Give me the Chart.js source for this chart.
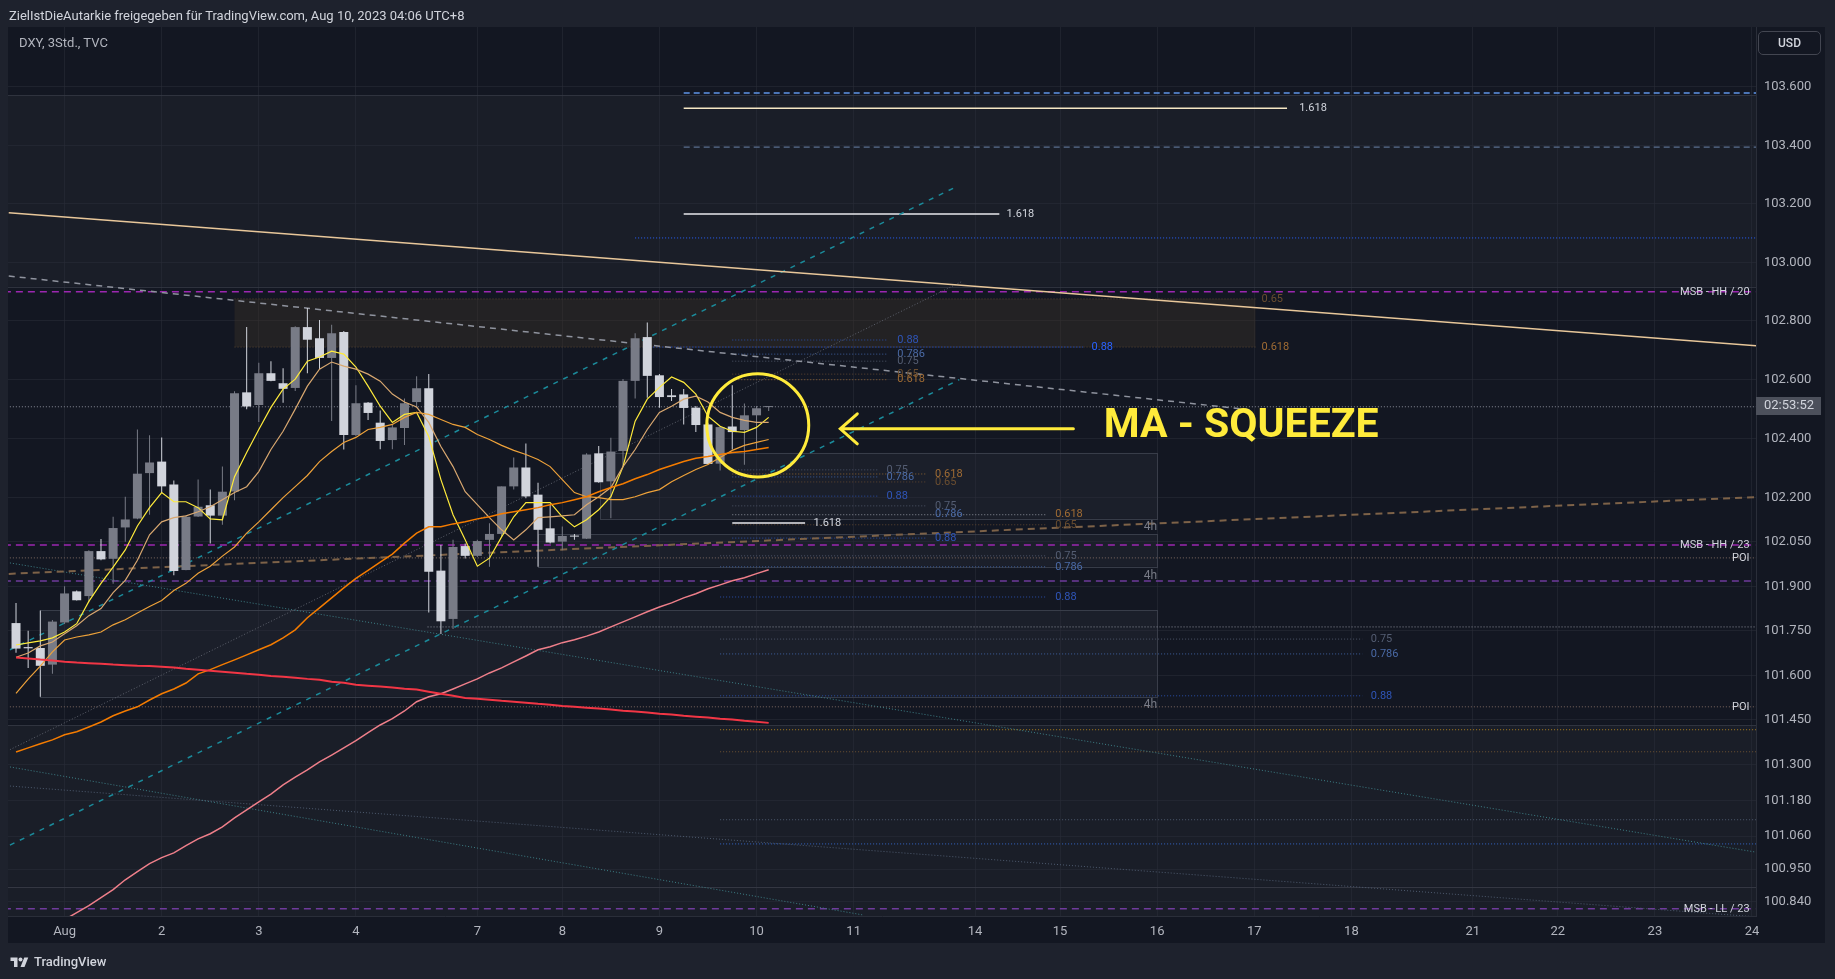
<!DOCTYPE html>
<html>
<head>
<meta charset="utf-8">
<script src="https://cdn.jsdelivr.net/npm/chart.js@4.4.0/dist/chart.umd.min.js"></script>
<style>
  html, body { margin: 0; padding: 0; background: #1e222d; }
  body { width: 1835px; height: 979px; position: relative; overflow: hidden; font-family: Roboto, "Noto Sans", sans-serif; }
  #chart { position: absolute; left: 0; top: 0; }
  #header { position: absolute; left: 9px; top: 9px; font-size: 13px; line-height: 14px; color: #d1d4dc; white-space: nowrap; }
  #symbol { position: absolute; left: 19px; top: 35px; font-size: 13px; line-height: 16px; color: #b2b5be; z-index: 2; }
  #usd { position: absolute; left: 1758px; top: 31px; width: 61px; height: 22px; border: 1px solid #434651; border-radius: 5px;
         font-size: 12px; font-weight: 500; line-height: 22px; text-align: center; color: #d1d4dc; z-index: 2; }
  #footer { position: absolute; left: 10px; top: 954px; display: flex; align-items: center; gap: 5px;
            font-size: 13px; font-weight: 500; color: #d1d4dc; }
</style>
</head>
<body>
<canvas id="chart" width="1835" height="979"></canvas>
<div id="header">ZielIstDieAutarkie freigegeben für TradingView.com, Aug 10, 2023 04:06 UTC+8</div>
<div id="symbol">DXY, 3Std., TVC</div>
<div id="usd">USD</div>
<div id="footer">
  <svg width="19" height="12" viewBox="0 0 36 24"><path fill="#d1d4dc" d="M14 22H7V10H0V3h14v19zM28 22h-8l7.5-19h8L28 22z"/><circle cx="20" cy="7" r="4" fill="#d1d4dc"/></svg>
  <span>TradingView</span>
</div>
<script>
// ---- time axis: bar index of each day label (3h bars) ----
const tickBars = [4, 12, 20, 28, 38, 45, 53, 61, 69, 79, 86, 94, 102, 110, 120, 127, 135, 143];
const tickDays = ['Aug', '2', '3', '4', '7', '8', '9', '10', '11', '14', '15', '16', '17', '18', '21', '22', '23', '24'];

// ---- price axis labels ----
const priceTicks = [103.6, 103.4, 103.2, 103.0, 102.8, 102.6, 102.4, 102.2, 102.05, 101.9, 101.75, 101.6, 101.45, 101.3, 101.18, 101.06, 100.95, 100.84];

// ---- DXY 3h candles ----
const opens = [101.776,101.695,101.692,101.636,101.778,101.883,101.867,102.019,101.993,102.099,
  102.129,102.283,102.322,102.244,101.955,102.136,102.174,102.139,102.221,102.557,
  102.514,102.622,102.588,102.572,102.779,102.741,102.674,102.762,102.412,102.522,
  102.454,102.395,102.436,102.524,102.571,101.953,101.790,102.036,102.003,102.057,
  102.077,102.238,102.302,102.210,102.096,102.051,102.071,102.061,102.350,102.255,
  102.358,102.596,102.745,102.615,102.547,102.550,102.505,102.448,102.315,102.441,
  102.429,102.479,102.507];
const highs = [101.844,101.750,101.818,101.786,101.900,101.886,102.022,102.060,102.135,102.203,
  102.431,102.411,102.404,102.258,102.140,102.261,102.227,102.305,102.561,102.779,
  102.658,102.663,102.639,102.782,102.844,102.803,102.787,102.766,102.581,102.524,
  102.495,102.447,102.536,102.612,102.619,102.040,102.057,102.045,102.057,102.113,
  102.238,102.336,102.383,102.250,102.176,102.102,102.077,102.350,102.375,102.403,
  102.602,102.758,102.795,102.619,102.568,102.568,102.511,102.454,102.443,102.581,
  102.519,102.511,102.511];
const lows = [101.676,101.625,101.528,101.605,101.773,101.852,101.846,101.988,101.909,102.051,
  102.127,102.142,102.216,101.937,101.954,102.134,102.045,102.108,102.191,102.500,
  102.456,102.595,102.522,102.562,102.622,102.636,102.460,102.363,102.409,102.463,
  102.364,102.364,102.378,102.505,101.812,101.739,101.756,101.994,101.999,101.966,
  102.068,102.227,102.198,101.966,102.045,102.022,102.057,102.060,102.250,102.130,
  102.306,102.536,102.539,102.505,102.528,102.448,102.422,102.312,102.292,102.363,
  102.311,102.363,102.494];
const closes = [101.690,101.691,101.632,101.781,101.876,101.853,102.019,101.991,102.097,102.126,
  102.281,102.319,102.238,101.952,102.135,102.169,102.139,102.220,102.554,102.509,
  102.622,102.596,102.569,102.779,102.736,102.674,102.758,102.412,102.520,102.487,
  102.392,102.438,102.520,102.571,101.949,101.782,102.033,102.003,102.053,102.077,
  102.238,102.302,102.204,102.091,102.048,102.070,102.068,102.346,102.252,102.356,
  102.596,102.741,102.613,102.541,102.541,102.504,102.446,102.314,102.439,102.422,
  102.479,102.503,102.509];

// ---- moving averages (one value per candle) ----
const maYellow = [101.702,101.709,101.716,101.726,101.746,101.774,101.849,101.910,101.965,102.023,
  102.104,102.166,102.217,102.186,102.186,102.166,102.128,102.125,102.271,102.353,
  102.431,102.506,102.568,102.602,102.663,102.677,102.697,102.687,102.643,102.578,
  102.510,102.455,102.482,102.489,102.407,102.261,102.142,102.057,101.968,101.995,
  102.067,102.135,102.183,102.183,102.183,102.135,102.101,102.125,102.159,102.203,
  102.305,102.459,102.534,102.574,102.609,102.591,102.551,102.476,102.442,102.425,
  102.421,102.438,102.472];
const maTan = [101.661,101.675,101.699,101.712,101.740,101.767,101.801,101.825,101.879,101.920,
  101.988,102.074,102.118,102.132,102.138,102.152,102.169,102.193,102.217,102.237,
  102.288,102.363,102.425,102.500,102.578,102.636,102.660,102.646,102.636,102.619,
  102.595,102.551,102.524,102.507,102.455,102.373,102.305,102.220,102.176,102.132,
  102.091,102.057,102.091,102.132,102.135,102.138,102.142,102.176,102.203,102.234,
  102.305,102.363,102.431,102.489,102.510,102.534,102.544,102.524,102.489,102.472,
  102.462,102.455,102.455];
const maOrange = [101.539,101.587,101.631,101.679,101.719,101.729,101.736,101.746,101.770,101.787,
  101.810,101.832,101.852,101.886,101.910,101.944,101.968,102.002,102.033,102.080,
  102.118,102.159,102.200,102.237,102.275,102.322,102.356,102.387,102.404,102.431,
  102.438,102.448,102.472,102.489,102.482,102.465,102.448,102.438,102.414,102.397,
  102.377,102.360,102.346,102.329,102.305,102.261,102.217,102.203,102.200,102.193,
  102.193,102.203,102.217,102.227,102.254,102.275,102.295,102.312,102.336,102.360,
  102.377,102.387,102.397];
const maDarkOrange = [101.342,101.356,101.370,101.383,101.400,101.410,101.426,101.443,101.464,101.480,
  101.494,101.517,101.538,101.554,101.574,101.605,101.619,101.636,101.652,101.669,
  101.686,101.703,101.726,101.753,101.794,101.827,101.861,101.895,101.927,101.954,
  101.982,102.009,102.046,102.080,102.101,102.101,102.111,102.118,102.128,102.135,
  102.145,102.152,102.159,102.166,102.176,102.183,102.193,102.203,102.220,102.234,
  102.247,102.264,102.278,102.295,102.309,102.322,102.333,102.339,102.346,102.353,
  102.356,102.363,102.370];
const maRed = [101.660,101.657,101.653,101.650,101.646,101.643,101.641,101.639,101.636,101.634,
  101.632,101.631,101.629,101.626,101.622,101.619,101.615,101.612,101.609,101.605,
  101.602,101.598,101.595,101.592,101.588,101.585,101.578,101.575,101.568,101.565,
  101.562,101.559,101.555,101.552,101.545,101.538,101.531,101.524,101.521,101.518,
  101.514,101.511,101.508,101.504,101.501,101.497,101.494,101.491,101.488,101.485,
  101.481,101.478,101.475,101.471,101.468,101.464,101.461,101.458,101.454,101.451,
  101.447,101.444,101.440];
const maPink = [100.681,100.707,100.734,100.754,100.781,100.804,100.828,100.854,100.881,100.914,
  100.941,100.968,100.988,101.004,101.028,101.051,101.068,101.091,101.121,101.148,
  101.175,101.201,101.232,101.258,101.282,101.309,101.332,101.356,101.380,101.407,
  101.433,101.454,101.480,101.511,101.528,101.538,101.554,101.571,101.588,101.608,
  101.625,101.645,101.665,101.686,101.696,101.710,101.720,101.732,101.746,101.763,
  101.780,101.797,101.814,101.830,101.844,101.861,101.875,101.892,101.905,101.919,
  101.929,101.943,101.956];

// ---- drawings, in bar index / price ----
// trend lines: [bar1, price1, bar2, price2, style]
const trendLines = [
  [-0.6, 103.169, 143.4, 102.715, 'tan'],
  [-0.6, 102.953, 101.6, 102.498, 'grayDash'],
  [-0.6, 101.942, 143.4, 102.202, 'brownDash'],
  [-0.5, 101.686, 77.6, 103.261, 'tealDash'],
  [-0.5, 101.030, 77.7, 102.600, 'tealDash'],
  [-0.5, 101.350, 78.0, 102.936, 'grayDot'],
  [-0.5, 101.979, 143.7, 101.004, 'tealDot'],
  [-0.5, 101.228, 143.4, 100.790, 'slateDot'],
  [-0.5, 101.292, 69.7, 100.797, 'tealDot']
];
// horizontal levels: [price, fromBar, toBar, style]
const levels = [
  [103.579, 55.0, 143.4, 'blueDash'],
  [103.527, 55.0, 104.7, 'cream'],
  [103.394, 55.0, 143.4, 'slateDash'],
  [103.165, 55.0, 81.0, 'white'],
  [103.083, 51.0, 143.4, 'blueDot'],
  [102.899, -1, 143.4, 'purpleDash'],
  [102.875, 18.0, 102.1, 'brownDotDim'],
  [102.711, 18.0, 102.1, 'brownDotDim'],
  [102.711, 52.5, 87.9, 'blueDot'],
  [102.735, 59.0, 71.8, 'fib88'],
  [102.687, 59.0, 71.8, 'fib786'],
  [102.663, 59.0, 71.8, 'fib75'],
  [102.619, 59.0, 71.8, 'fib65'],
  [102.600, 59.0, 71.8, 'fib618'],
  [102.294, 59.0, 71.0, 'fib75'],
  [102.270, 59.0, 71.0, 'fib786'],
  [102.205, 59.0, 71.0, 'fib88'],
  [102.280, 59.0, 75.0, 'fib618'],
  [102.253, 59.0, 75.0, 'fib65'],
  [102.172, 59.0, 75.0, 'fib75'],
  [102.142, 59.0, 84.9, 'lightDot'],
  [102.108, 59.0, 84.9, 'fib65'],
  [102.063, 59.0, 75.0, 'fib88'],
  [102.114, 59.0, 65.0, 'white'],
  [102.003, 58.0, 84.8, 'fib75'],
  [101.966, 58.0, 84.8, 'fib786'],
  [101.864, 58.0, 84.8, 'fib88'],
  [101.722, 58.0, 110.9, 'fib75'],
  [101.672, 58.0, 110.9, 'fib786'],
  [101.531, 58.0, 110.9, 'fib88'],
  [102.040, -1, 143.4, 'purpleDash'],
  [101.996, -1, 143.4, 'poiDot'],
  [101.918, -1, 143.4, 'purpleDashDim'],
  [101.763, 33.9, 143.4, 'lightDot'],
  [101.494, -1, 143.4, 'poiDot'],
  [101.417, 58.0, 143.4, 'orangeDot'],
  [101.343, 58.0, 143.4, 'brownDot'],
  [101.115, 58.0, 143.4, 'slateDot'],
  [101.034, 58.0, 143.4, 'blueDot2'],
  [100.817, -1, 143.4, 'purpleDashDim'],
  [102.508, -1, 143.4, 'lightDot']
];
// rectangles: [fromBar, toBar, topPrice, bottomPrice, style]
const boxes = [
  [-1, 143.4, 103.572, 102.916, 'band'],
  [18.0, 102.1, 102.875, 102.711, 'supply'],
  [48.1, 94.0, 102.352, 102.128, 'zone'],
  [43.0, 94.0, 102.077, 101.966, 'zone'],
  [2.0, 94.0, 101.820, 101.528, 'zone'],
  [-1, 143.4, 101.433, 100.890, 'band'],
  [-1, 143.4, 100.890, 100.700, 'band']
];
// level texts: [text, bar, price, style]
const levelLabels = [
  ['1.618', 105.7, 103.527, 'white'],
  ['1.618', 81.6, 103.165, 'white'],
  ['1.618', 65.7, 102.114, 'white'],
  ['0.65', 102.6, 102.875, 'fib65'],
  ['0.618', 102.6, 102.711, 'fib618'],
  ['0.88', 88.6, 102.711, 'blue'],
  ['0.88', 72.6, 102.735, 'fib88'],
  ['0.786', 72.6, 102.687, 'fib786'],
  ['0.75', 72.6, 102.663, 'fib75'],
  ['0.65', 72.6, 102.619, 'fib65'],
  ['0.618', 72.6, 102.600, 'fib618'],
  ['0.75', 71.7, 102.294, 'fib75'],
  ['0.786', 71.7, 102.270, 'fib786'],
  ['0.88', 71.7, 102.205, 'fib88'],
  ['0.618', 75.7, 102.280, 'fib618'],
  ['0.65', 75.7, 102.253, 'fib65'],
  ['0.75', 75.7, 102.172, 'fib75'],
  ['0.786', 75.7, 102.142, 'fib786'],
  ['0.88', 75.7, 102.063, 'fib88'],
  ['0.618', 85.6, 102.142, 'fib618'],
  ['0.65', 85.6, 102.108, 'fib65'],
  ['0.75', 85.6, 102.003, 'fib75'],
  ['0.786', 85.6, 101.966, 'fib786'],
  ['0.88', 85.6, 101.864, 'fib88'],
  ['0.75', 111.6, 101.722, 'fib75'],
  ['0.786', 111.6, 101.672, 'fib786'],
  ['0.88', 111.6, 101.531, 'fib88']
];
// right-aligned tags: [text, bar, price, style]
const sideTags = [
  ['4h', 94.0, 102.101, 'tf'],
  ['4h', 94.0, 101.935, 'tf'],
  ['4h', 94.0, 101.500, 'tf'],
  ['MSB - HH / 20', 142.8, 102.899, 'side'],
  ['MSB - HH / 23', 142.8, 102.040, 'side'],
  ['POI', 142.8, 101.996, 'side'],
  ['POI', 142.8, 101.494, 'side'],
  ['MSB - LL / 23', 142.8, 100.817, 'side']
];
// squeeze callout: ring bounds, arrow, text
const ringBounds = [56.9, 65.3, 102.620, 102.270];
const arrowBars = [87.1, 67.9];
const arrowPrice = 102.433;
const calloutText = 'MA - SQUEEZE';
const calloutAt = [89.6, 102.440];
const barCountdown = '02:53:52';

// ---- styles ----
const UP = '#787b86', DOWN = '#d1d4dc';
const lineStyles = {
  tan: ['#e8c79a', 1.5, []],
  grayDash: ['#8f939e', 1.5, [6, 5]],
  brownDash: ['#7d6248', 2, [7, 5]],
  tealDash: ['#1b8a9a', 1.5, [5, 6]],
  grayDot: ['#5d616c', 1, [1, 2]],
  tealDot: ['#3d7f86', 1, [1, 2]],
  slateDot: ['#4d5a6e', 1, [1, 2]],
  blueDash: ['#5f95e8', 1.5, [6, 4]],
  cream: ['#f6e7c4', 1.5, []],
  slateDash: ['#5a6f8f', 1.2, [6, 4]],
  white: ['#e8e9ec', 1.5, []],
  blueDot: ['#2962ff', 1, [1, 2]],
  blueDot2: ['#3566c8', 1, [1, 2]],
  purpleDash: ['#9c27b0', 1.5, [7, 5]],
  purpleDashDim: ['#6f3b9c', 1.5, [7, 5]],
  brownDotDim: ['#5a4630', 1, [1, 2]],
  fib88: ['#2a4ea8', 1, [1, 2]],
  fib786: ['#3d5f9e', 1, [1, 2]],
  fib75: ['#4d5568', 1, [1, 2]],
  fib65: ['#5e4630', 1, [1, 2]],
  fib618: ['#8c6232', 1, [1, 2]],
  lightDot: ['#8a8e99', 1, [1, 2]],
  poiDot: ['#7f6a62', 1, [1, 2]],
  orangeDot: ['#b0801c', 1, [1, 2]],
  brownDot: ['#6e5232', 1, [1, 2]]
};
const textColors = {
  white: '#d1d4dc', blue: '#2962ff', fib88: '#2f55b8', fib786: '#4a6aa6', fib75: '#545d72',
  fib65: '#6b4e30', fib618: '#a06c34', tf: '#787b86', side: '#d1d4dc'
};
const boxStyles = {
  band: ['rgba(42,46,57,0.30)', 'rgba(54,58,69,0.8)'],
  supply: ['rgba(64,52,40,0.38)', null],
  zone: ['rgba(42,46,57,0.35)', 'rgba(60,64,76,0.9)']
};

const seg = (x1, y1, x2, y2) => [{ x: x1, y: y1 }, { x: x2, y: y2 }];
const series = arr => arr.map((v, i) => ({ x: i, y: v }));

const datasets = [];
levels.forEach(([p, a, b, s]) => {
  const [c, w, d] = lineStyles[s];
  datasets.push({ type: 'line', data: seg(a, p, b, p), borderColor: c, borderWidth: w, borderDash: d, pointRadius: 0, order: 6 });
});
trendLines.forEach(([a, p1, b, p2, s]) => {
  const [c, w, d] = lineStyles[s];
  datasets.push({ type: 'line', data: seg(a, p1, b, p2), borderColor: c, borderWidth: w, borderDash: d, pointRadius: 0, order: 5 });
});
// wicks then bodies
datasets.push({
  type: 'bar', data: lows.map((l, i) => ({ x: i, y: [l, highs[i]] })),
  backgroundColor: closes.map((c, i) => c >= opens[i] ? UP : DOWN),
  barThickness: 1, grouped: false, inflateAmount: 0, order: 4
});
datasets.push({
  type: 'bar', data: opens.map((o, i) => ({ x: i, y: [o, closes[i]] })),
  backgroundColor: closes.map((c, i) => c >= opens[i] ? UP : DOWN),
  barThickness: 9, minBarLength: 1, grouped: false, inflateAmount: 0, order: 3
});
[[maRed, '#f23645', 2], [maPink, '#ef7f8a', 1.5], [maDarkOrange, '#f57c00', 1.5],
 [maOrange, '#eea23a', 1.2], [maTan, '#d9a870', 1.2], [maYellow, '#ffeb3b', 1.2]].forEach(([arr, c, w]) => {
  datasets.push({ type: 'line', data: series(arr), borderColor: c, borderWidth: w, pointRadius: 0, tension: 0, order: 1 });
});

const drawings = {
  id: 'drawings',
  beforeDraw(chart) {
    const { ctx, chartArea, scales: { x, y } } = chart;
    ctx.save();
    ctx.fillStyle = '#131722';
    ctx.fillRect(chartArea.left, chartArea.top, y.right - chartArea.left, x.bottom - chartArea.top);
    ctx.restore();
  },
  beforeDatasetsDraw(chart) {
    const { ctx, chartArea: ca, scales: { x, y } } = chart;
    ctx.save();
    ctx.beginPath(); ctx.rect(ca.left, ca.top, ca.right - ca.left, ca.bottom - ca.top); ctx.clip();
    boxes.forEach(([a, b, pt, pb, s]) => {
      const [fill, stroke] = boxStyles[s];
      const x1 = x.getPixelForValue(a), x2 = x.getPixelForValue(b);
      const y1 = y.getPixelForValue(pt), y2 = y.getPixelForValue(pb);
      ctx.fillStyle = fill;
      ctx.fillRect(x1, y1, x2 - x1, y2 - y1);
      if (stroke) {
        ctx.strokeStyle = stroke; ctx.lineWidth = 1;
        ctx.strokeRect(Math.round(x1) + 0.5, Math.round(y1) + 0.5, Math.round(x2 - x1), Math.round(y2 - y1));
      }
    });
    ctx.restore();
  },
  afterDatasetsDraw(chart) {
    const { ctx, chartArea: ca, scales: { x, y } } = chart;
    ctx.save();
    ctx.beginPath(); ctx.rect(ca.left, ca.top, ca.right - ca.left, ca.bottom - ca.top); ctx.clip();
    ctx.font = '11px Roboto, sans-serif';
    ctx.textBaseline = 'middle';
    ctx.textAlign = 'left';
    levelLabels.forEach(([t, b, p, s]) => {
      ctx.fillStyle = textColors[s];
      ctx.fillText(t, x.getPixelForValue(b), y.getPixelForValue(p));
    });
    ctx.textAlign = 'right';
    sideTags.forEach(([t, b, p, s]) => {
      ctx.fillStyle = textColors[s];
      ctx.font = s === 'tf' ? '12px Roboto, sans-serif' : '11px Roboto, sans-serif';
      ctx.fillText(t, x.getPixelForValue(b), y.getPixelForValue(p));
    });

    // ring around the squeeze
    const rx1 = x.getPixelForValue(ringBounds[0]), rx2 = x.getPixelForValue(ringBounds[1]);
    const ry1 = y.getPixelForValue(ringBounds[2]), ry2 = y.getPixelForValue(ringBounds[3]);
    ctx.strokeStyle = '#ffeb3b'; ctx.lineWidth = 3;
    ctx.beginPath();
    ctx.ellipse((rx1 + rx2) / 2, (ry1 + ry2) / 2, (rx2 - rx1) / 2, (ry2 - ry1) / 2, 0, 0, Math.PI * 2);
    ctx.stroke();

    // arrow pointing at it
    const ax1 = x.getPixelForValue(arrowBars[0]), ax2 = x.getPixelForValue(arrowBars[1]);
    const ay = y.getPixelForValue(arrowPrice);
    ctx.lineWidth = 3; ctx.lineCap = 'round';
    ctx.beginPath();
    ctx.moveTo(ax1, ay); ctx.lineTo(ax2, ay);
    ctx.moveTo(ax2 + 17, ay - 15); ctx.lineTo(ax2, ay); ctx.lineTo(ax2 + 17, ay + 15);
    ctx.stroke();

    ctx.fillStyle = '#ffeb3b';
    ctx.font = 'bold 41px Roboto, sans-serif';
    ctx.textAlign = 'left';
    ctx.fillText(calloutText, x.getPixelForValue(calloutAt[0]), y.getPixelForValue(calloutAt[1]));
    ctx.restore();
  },
  afterDraw(chart) {
    const { ctx, scales: { y } } = chart;
    const py = y.getPixelForValue(closes[closes.length - 1]);
    ctx.save();
    ctx.fillStyle = '#4c505b';
    ctx.fillRect(y.left, Math.round(py) - 9, 65, 18);
    ctx.fillStyle = '#d1d4dc';
    ctx.font = '13px Roboto, sans-serif';
    ctx.textBaseline = 'middle';
    ctx.textAlign = 'left';
    ctx.fillText(barCountdown, y.left + 8, Math.round(py));
    ctx.restore();
  }
};

Chart.defaults.font.family = 'Roboto, "Noto Sans", sans-serif';
Chart.defaults.color = '#b2b5be';

new Chart(document.getElementById('chart').getContext('2d'), {
  type: 'bar',
  data: { datasets },
  options: {
    responsive: false,
    animation: false,
    layout: { padding: { left: 8, top: 27, right: 10, bottom: 36 } },
    plugins: { legend: { display: false }, tooltip: { enabled: false } },
    scales: {
      x: {
        type: 'linear', min: -0.66, max: 143.33, offset: false,
        grid: { color: 'rgba(42,46,57,0.55)', drawTicks: false, offset: false },
        border: { color: '#2a2e39' },
        ticks: {
          autoSkip: false, maxRotation: 0, padding: 8, font: { size: 13 }, color: '#b2b5be',
          callback: v => { const i = tickBars.indexOf(v); return i >= 0 ? tickDays[i] : ''; }
        },
        afterBuildTicks: s => { s.ticks = tickBars.map(v => ({ value: v })); },
        afterFit: s => { s.height = 27; }
      },
      y: {
        type: 'logarithmic', position: 'right', min: 100.793, max: 103.806,
        grid: { color: 'rgba(42,46,57,0.55)', drawTicks: false },
        border: { color: '#2a2e39' },
        ticks: { padding: 8, font: { size: 13 }, color: '#b2b5be', callback: v => Number(v).toFixed(3) },
        afterBuildTicks: s => { s.ticks = priceTicks.map(v => ({ value: v })); },
        afterFit: s => { s.width = 69; }
      }
    }
  },
  plugins: [drawings]
});
</script>
</body>
</html>
